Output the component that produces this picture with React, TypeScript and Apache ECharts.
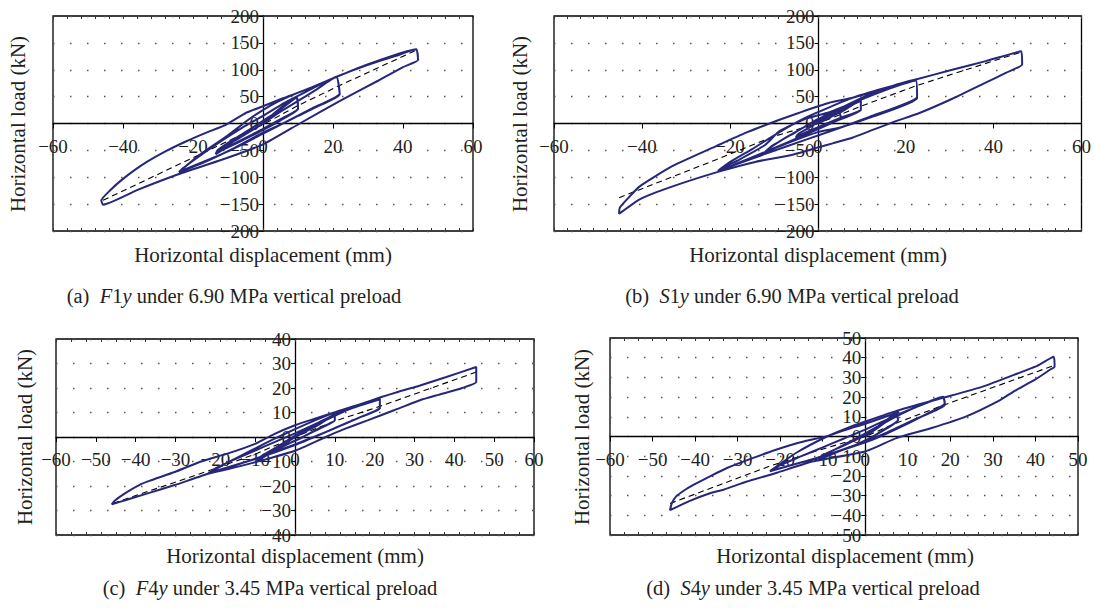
import React, { useEffect, useRef } from "react";
import * as echarts from "echarts";

// ---------- axis ranges [min, max, interval] ----------
const xAxisA = [-60, 60, 20];
const yAxisA = [-200, 200, 50];
const xAxisB = [-60, 60, 20];
const yAxisB = [-200, 200, 50];
const xAxisC = [-60, 60, 10];
const yAxisC = [-40, 40, 10];
const xAxisD = [-60, 50, 10];
const yAxisD = [-50, 50, 10];
// minor border tick spacing (mm) for each panel
const borderTickStep = [4, 3, 3.75, 10 / 3];

// ---------- texts ----------
const xTitle = "Horizontal displacement (mm)";
const yTitle = "Horizontal load (kN)";
const captions = [
  "(a)  {i|F}1{i|y} under 6.90 MPa vertical preload",
  "(b)  {i|S}1{i|y} under 6.90 MPa vertical preload",
  "(c)  {i|F}4{i|y} under 3.45 MPa vertical preload",
  "(d)  {i|S}4{i|y} under 3.45 MPa vertical preload",
];

// ---------- (a) F1y hysteresis loop & backbone ----------
const loopA = [
  [0, 0], [3, 18], [6, 34], [9.6, 50], [10, 28], [5, 8], [0, -10], [-6, -30], [-10, -43], [-13.5, -57],
  [-13, -50], [-9, -32], [-4, -12], [0, 5], [5, 26], [9.6, 48], [10, 27], [5, 6], [0, -12], [-7, -35],
  [-13.5, -55], [-12, -47], [-6, -24], [0, 0], [5, 22], [10, 42], [15, 62], [21, 87], [21.9, 54], [15, 30],
  [10, 14], [5, -2], [0, -17], [-8, -45], [-16, -70], [-24, -91], [-23, -84], [-18, -60], [-12, -33], [-6, -8],
  [0, 14], [6, 38], [12, 58], [21, 86], [21.9, 56], [14, 28], [6, 1], [0, -19], [-10, -52], [-24, -90],
  [-18, -58], [-10, -22], [-4, 8], [2, 33], [8, 52], [15, 70], [21, 87], [30, 109], [38, 126], [43.8, 138],
  [44.3, 118], [40, 105], [33, 80], [22, 42], [10.5, 0], [0, -39], [-12, -68], [-24, -94], [-36, -124], [-45.7, -151],
  [-46.2, -143], [-43.8, -125], [-40, -103], [-34.3, -76], [-27.6, -51], [-21.9, -33], [-16.2, -17], [-10.5, -2], [-4.8, 20], [0, 32],
  [5.7, 47], [12.4, 63], [20, 84], [29.5, 109], [43.8, 138], [44.3, 122],
];
const backboneA = [[-45.7, -143], [-24, -76], [-13, -42], [0, -2], [9.6, 32], [21, 68], [44.3, 138]];

// ---------- (b) S1y ----------
const loopB = [
  [0, 0], [2.5, 10], [5, 20], [5.2, 12], [2, 0], [-2, -14], [-5, -26], [-4.5, -20], [-2, -8], [0, 2],
  [3, 14], [5.2, 21], [7, 30], [9.8, 44.6], [9.8, 26], [5, 10], [0, -10], [-6, -32], [-12.1, -54.6], [-11, -46],
  [-7, -25], [-2, -2], [3, 17], [9.8, 42], [9.8, 25], [4, 4], [-2, -18], [-12, -53], [-10.5, -42], [-5, -16],
  [0, 8], [6, 32], [12, 55], [17, 70], [22.3, 81.8], [22.6, 47], [11.7, 10.5], [4.9, -8], [0, -16], [-8, -40],
  [-15, -63], [-22.7, -89], [-21, -80], [-17.8, -67], [-12, -40], [-8.7, -14], [-3, 8], [2.6, 21], [10, 45], [16, 64],
  [22.3, 80], [22.6, 50], [12, 13], [3, -14], [-8, -45], [-22.7, -88], [-20, -72], [-15, -48], [-8.7, -16], [-3, 10],
  [2.6, 30], [7.9, 47.8], [15.5, 66.4], [22.3, 81.8], [30.6, 100], [38.2, 116], [46.3, 134.5], [46.5, 110], [43, 95], [38.2, 76],
  [30.6, 46], [23, 19], [17, 2], [8, -26], [3.4, -37], [0.3, -44], [-5.7, -58], [-14, -71], [-22.7, -90], [-33, -117],
  [-40.5, -141], [-45.2, -168], [-45, -156], [-40.5, -117], [-33, -79], [-23.1, -42], [-16.3, -17], [-8.7, 7], [-4.2, 20], [2.6, 38.5],
  [7.9, 47.8], [15.5, 66], [22.3, 82],
];
const backboneB = [[-45.2, -138], [-23, -67], [-10, -24], [0, 0], [9.8, 32], [22.3, 70], [46.3, 133]];

// ---------- (c) F4y ----------
const loopC = [
  [0, 0], [3, 2.5], [6, 5], [10, 9.5], [10, 6.8], [6, 3.5], [2, 0], [-2, -3], [-6, -6], [-9.5, -10],
  [-9, -8.5], [-6, -5.5], [-2, -2], [2, 2], [6, 5.8], [10, 9.3], [10, 6.8], [5, 2.5], [0, -1.5], [-5, -5.5],
  [-9.5, -9.8], [-8, -7.5], [-4, -3.5], [0, 0.5], [6, 5.5], [12, 10.2], [17, 13.3], [21.3, 15.6], [21.3, 11.6], [16, 7.8],
  [10, 3.6], [5, 0.2], [0, -3], [-7, -7.2], [-14, -11], [-21.8, -15], [-20, -12.8], [-15, -9], [-10, -5.5], [-5, -2],
  [0, 1.5], [6, 6], [12, 10.5], [21.3, 15.4], [21.3, 12], [14, 6.5], [7, 1.5], [0, -3.3], [-10, -9], [-21.8, -14.8],
  [-17, -10.5], [-11, -5.5], [-5.5, -1], [0, 3.2], [5, 6.8], [10.3, 10.2], [16, 13.2], [21.7, 16.3], [26, 18.5], [31.4, 21],
  [38, 24.5], [45.5, 28.6], [45.5, 22.4], [42, 20], [36, 17.2], [31.4, 15], [25, 11], [18.2, 6.8], [12, 3], [7.7, 0],
  [0, -5.6], [-8.2, -9.5], [-14, -12], [-21.4, -14.8], [-30, -19.5], [-37.2, -23.1], [-42, -25.5], [-46, -27.5], [-45.2, -25.9], [-42, -22.3],
  [-39, -19.5], [-36.4, -17.8], [-30.2, -14.3], [-23.8, -10.1], [-17, -6.8], [-10, -2.8], [-5.5, 1], [0, 4.8], [5, 7.5], [10.3, 10.2],
  [16, 13.2], [21.7, 16.3], [26, 18.5], [31.4, 21], [38, 24.5], [45.5, 28.6], [45.5, 24],
];
const backboneC = [[-45.6, -27], [-22, -14], [-10, -7], [0, 0], [10, 6.5], [21.3, 12.5], [45.5, 26.5]];

// ---------- (d) S4y ----------
const loopD = [
  [0, 0], [3, 4.5], [5.5, 8.5], [7.3, 12.6], [7.7, 8.4], [4, 3], [0, -2.5], [-5, -6.5], [-11, -11.8], [-10, -9.5],
  [-6, -5.5], [-2, -1.5], [2, 3.5], [7.3, 11.5], [7.7, 8.2], [3, 1.5], [-2, -4], [-7, -8], [-11, -11.5], [-8, -7.5],
  [-3, -2], [2, 4], [8, 11], [13, 16], [18.3, 20.2], [18.7, 16.9], [14, 11], [9, 5.5], [4, 0.5], [0, -3],
  [-7, -8], [-14, -12.5], [-22.4, -17.7], [-20, -14.5], [-15, -10], [-10, -5.5], [-5, -1], [0, 3.5], [6, 9.5], [12, 15],
  [18.3, 19.8], [18.7, 16], [12, 9], [5, 2], [0, -2.5], [-10, -10], [-22.4, -17.5], [-16, -8], [-9, 0], [-4, 4.5],
  [0, 7.6], [8.1, 13.5], [17.9, 19.4], [27.6, 25.3], [35.8, 32], [40.5, 36], [44.3, 40.5], [44.5, 35.4], [43.5, 34], [39.8, 28.7],
  [35, 23], [31.7, 18.5], [23.6, 10.1], [15.4, 4.2], [7.3, -0.8], [0, -7.6], [-12.2, -12.6], [-20.8, -18.4], [-28, -23], [-33.3, -27],
  [-36.5, -28.8], [-41.5, -32.9], [-45.9, -37.4], [-45.5, -34], [-44.5, -30.5], [-42.5, -27.3], [-40.4, -24.6], [-36.5, -20.2], [-32.5, -16], [-26.5, -11],
  [-20.8, -6.6], [-15, -2.8], [-9, 0.2], [-4, 3.8], [0, 6.5], [8, 12.5],
];
const backboneD = [[-45.9, -34], [-22.4, -15], [-11, -7], [0, 0], [7.5, 7], [18.5, 16], [44.3, 36]];

const FONT = '"Liberation Serif", "Times New Roman", serif';
const NAVY = "#26267a";
const INK = "#231f20";

const fmt = (v: number) => (v < 0 ? "\u2212" + Math.abs(v) : String(v));

export default function App() {
  const ref = useRef<HTMLDivElement>(null);

  useEffect(() => {
    if (!ref.current) return;
    const chart = echarts.init(ref.current, null, { renderer: "svg" });

    const panels = [
      { grid: { left: 53, top: 16, width: 420, height: 215 }, x: xAxisA, y: yAxisA, loop: loopA, bb: backboneA,
        yt: [18, 124], xt: [263, 255], cap: [234, 296] },
      { grid: { left: 554, top: 16, width: 529, height: 215 }, x: xAxisB, y: yAxisB, loop: loopB, bb: backboneB,
        yt: [520, 124], xt: [818, 255], cap: [792, 296] },
      { grid: { left: 56, top: 339, width: 478, height: 196 }, x: xAxisC, y: yAxisC, loop: loopC, bb: backboneC,
        yt: [25, 437], xt: [295, 556], cap: [270, 588] },
      { grid: { left: 610, top: 338, width: 468, height: 197 }, x: xAxisD, y: yAxisD, loop: loopD, bb: backboneD,
        yt: [582, 437], xt: [845, 556], cap: [813, 588] },
    ];

    const graphics: any[] = [];
    panels.forEach((p, i) => {
      graphics.push({
        type: "text", x: p.yt[0], y: p.yt[1], rotation: Math.PI / 2,
        style: { text: yTitle, fill: INK, fontSize: 21, fontFamily: FONT,
          textAlign: "center", textVerticalAlign: "middle", align: "center", verticalAlign: "middle" },
      });
      graphics.push({
        type: "text", x: p.xt[0], y: p.xt[1],
        style: { text: xTitle, fill: INK, fontSize: 21, fontFamily: FONT,
          textAlign: "center", textVerticalAlign: "middle", align: "center", verticalAlign: "middle" },
      });
      graphics.push({
        type: "text", x: p.cap[0], y: p.cap[1],
        style: { text: captions[i], fill: INK, fontSize: 20.5, fontFamily: FONT,
          textAlign: "center", textVerticalAlign: "middle", align: "center", verticalAlign: "middle",
          rich: { i: { fontStyle: "italic", fontSize: 20.5, fontFamily: FONT, fill: INK, color: INK } } },
      });
    });

    // place the axes on the zero lines via offsets computed from the axis ranges
    const xOffset = (p: any) => -((0 - p.y[0]) / (p.y[1] - p.y[0])) * p.grid.height;
    const yOffset = (p: any) => -((0 - p.x[0]) / (p.x[1] - p.x[0])) * p.grid.width;

    const mainX = panels.map((p, i) => ({
      gridIndex: i, type: "value", min: p.x[0], max: p.x[1], interval: p.x[2],
      position: "bottom", offset: xOffset(p),
      axisLine: { onZero: false, lineStyle: { color: "#000", width: 1.3 } },
      axisTick: { show: true, length: 5, lineStyle: { color: "#000", width: 1 } },
      axisLabel: { formatter: fmt, fontFamily: FONT, fontSize: 19, color: INK, margin: 13, hideOverlap: false },
      splitLine: { show: false },
    }));
    // small tick marks along the top and bottom borders
    const borderX = panels.flatMap((p, i) =>
      (["top", "bottom"] as const).map((pos) => ({
        gridIndex: i, type: "value", min: p.x[0], max: p.x[1], interval: borderTickStep[i],
        position: pos, offset: 0,
        axisLine: { show: false, onZero: false },
        axisTick: { show: true, inside: true, length: 3, lineStyle: { color: "#333", width: 1 } },
        axisLabel: { show: false },
        splitLine: { show: false },
      }))
    );

    const option: any = {
      animation: false,
      backgroundColor: "#fff",
      grid: panels.map((p) => ({ ...p.grid, show: true, borderColor: "#000", borderWidth: 1.3, backgroundColor: "transparent" })),
      xAxis: [...mainX, ...borderX],
      yAxis: panels.map((p, i) => ({
        gridIndex: i, type: "value", min: p.y[0], max: p.y[1], interval: p.y[2],
        position: "left", offset: yOffset(p),
        axisLine: { onZero: false, lineStyle: { color: "#000", width: 1.3 } },
        axisTick: { show: true, length: 4, lineStyle: { color: "#000", width: 1 } },
        axisLabel: { formatter: fmt, fontFamily: FONT, fontSize: 19, color: INK, margin: 4, hideOverlap: false },
        splitLine: { show: true, lineStyle: { color: "#555", width: 1.4, type: [1.5, 15.5] } },
      })),
      series: panels.flatMap((p, i) => [
        {
          type: "line", xAxisIndex: i, yAxisIndex: i, data: p.bb, showSymbol: false, z: 2,
          lineStyle: { color: "#000", width: 1.1, type: [6, 4] }, silent: true,
        },
        {
          type: "line", xAxisIndex: i, yAxisIndex: i, data: p.loop, showSymbol: false, z: 3, smooth: 0.15,
          lineStyle: { color: NAVY, width: 2 }, silent: true,
        },
      ]),
      graphic: { elements: graphics },
    };

    chart.setOption(option);
    return () => chart.dispose();
  }, []);

  return (
    <div
      ref={ref}
      style={{ position: "fixed", left: 0, top: 0, width: 1094, height: 610, background: "#fff" }}
    />
  );
}
